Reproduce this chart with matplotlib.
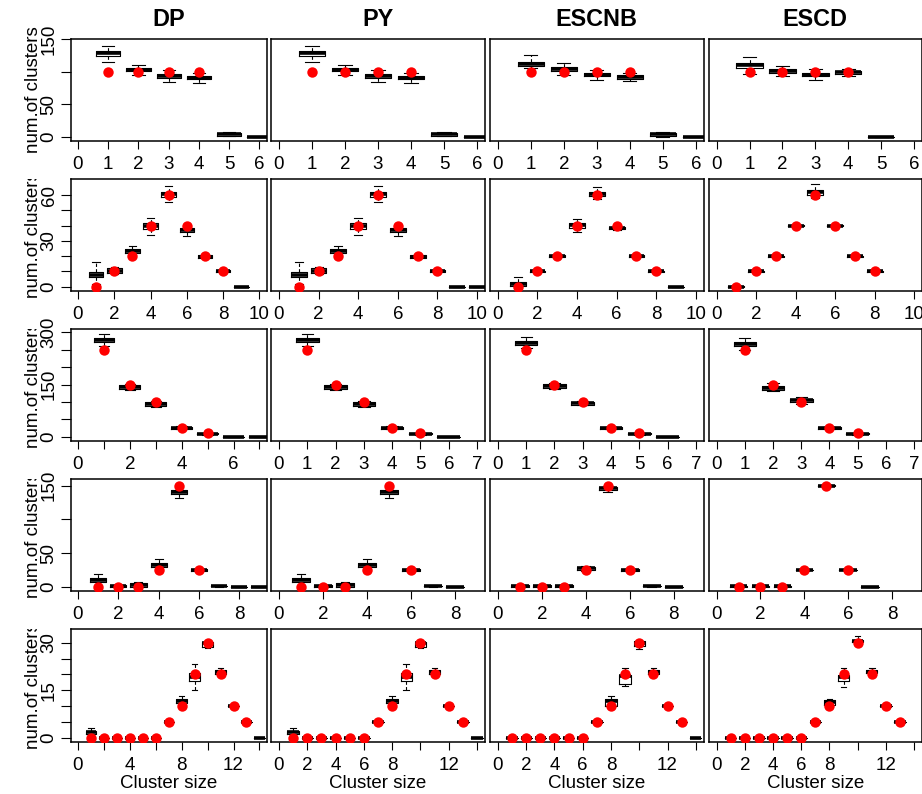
import numpy as np
import matplotlib.pyplot as plt
from matplotlib.transforms import Bbox, TransformedBbox

plt.rcParams['font.family'] = ['Liberation Sans', 'DejaVu Sans']

models = ['DP', 'PY', 'ESCNB', 'ESCD']

# box stats per panel: (lower whisker, q1, median, q3, upper whisker) for cluster size 1, 2, ...
Z = (0, 0, 0, 0, 0)

stats1 = {
    'DP': [(115, 124, 128, 131, 139), (95, 100.5, 103, 105.6, 111), (85, 91, 93.4, 96.4, 102.6),
           (82.7, 88.3, 90.8, 93.4, 98.5), (1, 1.5, 4, 6, 8), Z],
    'PY': [(115, 124, 128, 131, 139), (95, 100.5, 103, 105.6, 111), (85, 91, 93.4, 96.4, 102.6),
           (82.7, 88.3, 90.8, 93.4, 98.5), (1, 1.5, 4, 6, 8), Z],
    'ESCNB': [(105, 108.2, 111.7, 115.3, 125), (94.4, 100.5, 103.6, 106.6, 113.8), (87.2, 92.9, 95.4, 98, 102.6),
              (85.7, 89.3, 92.4, 94.4, 98.5), (0, 1.5, 4, 6, 7.7), Z],
    'ESCD': [(96.4, 105.6, 109.7, 113.8, 123), (92.9, 98.5, 101.5, 104.1, 109.2), (87.2, 92.9, 95.4, 98, 103.6),
             (93.4, 96.4, 99, 101.5, 104.6), Z],
}
stats2 = {
    'DP': [(2, 6.1, 7.6, 9.8, 16), (8, 9, 10.5, 12, 13), (19, 21.8, 23.4, 24.4, 26.8), (34, 38, 39.7, 41.5, 45.2),
           (55.2, 58.9, 60.5, 62, 66.1), (33, 35.6, 37.1, 38.4, 40), (18.5, 19, 19.6, 21, 21.5),
           (9, 9.5, 10, 11, 11.5), Z],
    'PY': [(2, 6.1, 7.6, 9.8, 16), (8, 9, 10.5, 12, 13), (19, 21.8, 23.4, 24.4, 26.8), (34, 38, 39.7, 41.5, 45.2),
           (55.2, 58.9, 60.5, 62, 66.1), (33, 35.6, 37.1, 38.4, 40), (18.5, 19, 19.6, 21, 21.5),
           (9, 9.5, 10, 11, 11.5), Z, Z],
    'ESCNB': [(0, 0.7, 2, 3.3, 6.1), (9, 9.5, 10, 10.5, 11), (19, 19.5, 20, 20.5, 21), (36, 38.2, 40.2, 41.7, 44.1),
              (57.5, 59.3, 60.7, 62.2, 65), (37, 37.5, 38.4, 39.4, 40), (19, 19.5, 20, 20.5, 21),
              (9, 9.5, 10, 10.5, 11), Z],
    'ESCD': [(0, 0, 0, 0.5, 1), (9.5, 9.7, 10, 10.3, 10.5), (19.5, 19.7, 20, 20.3, 20.5), (39.5, 39.7, 40, 40.3, 40.5),
             (58, 59.8, 61.8, 63.1, 67.2), (39, 39.5, 40, 40.3, 40.6), (19.5, 19.7, 20, 20.3, 20.5),
             (9.5, 9.7, 10, 10.3, 10.5)],
}
stats3 = {
    'DP': [(261.5, 271.2, 277.9, 282.7, 294), (134, 137.9, 143.8, 147.6, 151), (86, 89.1, 94.8, 99.7, 103),
           (21, 22.2, 25, 27.8, 30), (6, 7.5, 9, 10.5, 12), Z, Z],
    'PY': [(261.5, 271.2, 277.9, 282.7, 294), (134, 137.9, 143.8, 147.6, 151), (86, 89.1, 94.8, 99.7, 103),
           (21, 22.2, 25, 27.8, 30), (6, 7.5, 9, 10.5, 12), Z],
    'ESCNB': [(255, 264.4, 269, 275, 287.5), (136, 140.8, 146.6, 151.4, 153), (90, 92, 95.8, 99, 102),
              (22, 23.5, 25, 27, 29), (5, 6.5, 7.8, 9.5, 11), Z],
    'ESCD': [(250, 260.6, 266.4, 272, 284.5), (130.4, 135.1, 140.8, 146.6, 155), (95, 98.8, 104.5, 109.2, 114),
             (22, 23.5, 25, 27, 29), (5, 6.5, 8, 9.5, 11)],
}
stats4 = {
    'DP': [(2, 7.4, 9.9, 12.4, 18.4), (0, 0, 1, 2, 2.5), (0, 0, 2.5, 5, 7.4), (25, 28.8, 31.7, 34.7, 40.7),
           (132.2, 137.7, 140.2, 143.2, 146), (22, 23, 24.3, 26, 27), (0, 0.5, 1, 1.5, 2), Z, Z],
    'PY': [(2, 7.4, 9.9, 12.4, 18.4), (0, 0, 1, 2, 2.5), (0, 0, 2.5, 5, 7.4), (25, 28.8, 31.7, 34.7, 40.7),
           (132.2, 137.7, 140.2, 143.2, 146), (22, 23, 24.3, 26, 27), (0, 0.5, 1, 1.5, 2), Z],
    'ESCNB': [(0, 0, 1, 2, 2.5), (0, 0, 1, 2, 2.5), (0, 0, 1, 2, 3), (24, 25, 27.2, 29, 31),
              (140, 143, 146, 148, 150), (23, 24, 25, 26, 27), (0, 0.5, 1, 1.5, 2), Z],
    'ESCD': [(0, 0, 1, 1.5, 2), (0, 0, 1, 1.5, 2), (0, 0, 1, 1.5, 2), (24, 24.5, 25, 25.5, 26),
             (149, 149.5, 150, 150.5, 151), (24, 24.5, 25, 25.5, 26), Z],
}
stats5 = {
    'DP': [(0, 1.2, 1.7, 2.2, 3), Z, Z, Z, Z, Z, (4.8, 4.9, 5, 5.1, 5.2), (10, 11.1, 11.7, 12.4, 13.1),
           (15.1, 18.1, 19.3, 20.4, 23.4), (28.3, 28.8, 29.9, 30.3, 30.6), (19.5, 20.2, 20.9, 21.4, 21.9),
           (9.8, 9.9, 10, 10.1, 10.2), (4.8, 4.9, 5, 5.1, 5.2), Z],
    'PY': [(0, 1.2, 1.7, 2.2, 3), Z, Z, Z, Z, Z, (4.8, 4.9, 5, 5.1, 5.2), (10, 11.1, 11.7, 12.4, 13.1),
           (15.1, 18.1, 19.3, 20.4, 23.4), (28.3, 28.8, 29.9, 30.3, 30.6), (19.5, 20.2, 20.9, 21.4, 21.9),
           (9.8, 9.9, 10, 10.1, 10.2), (4.8, 4.9, 5, 5.1, 5.2), Z],
    'ESCNB': [Z, Z, Z, Z, Z, Z, (4.8, 4.9, 5, 5.1, 5.2), (9.8, 10, 11.7, 12.2, 13.1),
              (16.5, 17, 19.6, 19.9, 22.2), (28.1, 29, 30, 30.5, 31), (20, 20.3, 20.9, 21.4, 21.9),
              (9.8, 9.9, 10, 10.1, 10.2), (4.8, 4.9, 5, 5.1, 5.2), Z],
    'ESCD': [Z, Z, Z, Z, Z, Z, (4.8, 4.9, 5, 5.1, 5.2), (10, 10.5, 11.4, 12, 12.3),
             (16, 18.1, 19.3, 19.9, 22.2), (30, 30.2, 30.6, 31, 32.3), (20, 20.4, 20.9, 21.4, 21.9),
             (9.8, 9.9, 10, 10.1, 10.2), (4.8, 4.9, 5, 5.1, 5.2)],
}
all_stats = [stats1, stats2, stats3, stats4, stats5]

# true number of clusters (red points)
truth1 = [100, 100, 100, 100]
truth2 = [0, 10, 20, 40, 60, 40, 20, 10]
truth3 = [250, 150, 100, 25, 10]
truth4 = [0, 0, 0, 25, 150, 25]
truth5 = [0, 0, 0, 0, 0, 0, 5, 10, 20, 30, 20, 10, 5]
all_truth = [truth1, truth2, truth3, truth4, truth5]

xmax = [6, 10, 7, 9, 14]
xstep = [1, 2, 1, 2, 2]
# x labels R kept (others dropped for overlap)
xlab_keep = [
    [None, None, None, None],
    [None, None, None, None],
    [[0, 2, 4, 6], None, None, None],
    [None, None, None, None],
    [[0, 4, 8, 12], [0, 2, 4, 6, 8, 12], [0, 2, 4, 6, 8, 12], [0, 2, 4, 6, 8, 12]],
]
ylims = [(-6, 150), (-2.8, 70.5), (-11.5, 309.5), (-6.4, 160), (-1.27, 34.4)]
yticks = [np.arange(0, 151, 50), np.arange(0, 61, 10), np.arange(0, 301, 50),
          np.arange(0, 151, 50), np.arange(0, 31, 5)]
ylab_keep = [[0, 50, 150], [0, 30, 60], [0, 150, 300], [0, 50, 150], [0, 15, 30]]
ylab_text = ['num.of clusters'] * 5

W, H = 922, 794
cols = [(70.7, 266.7), (271, 485), (490, 703.7), (708.7, 922)]
rows = [(39, 141), (179, 291), (329, 440.7), (479, 591), (629, 741.7)]
FS = 13.5

fig = plt.figure(figsize=(W / 100, H / 100), dpi=100)

for r in range(5):
    for c, m in enumerate(models):
        x0, x1 = cols[c]
        y0, y1 = rows[r]
        ax = fig.add_axes([x0 / W, 1 - y1 / H, (x1 - x0) / W, (y1 - y0) / H])
        st = all_stats[r][m]
        bx = [dict(whislo=s[0], q1=s[1], med=s[2], q3=s[3], whishi=s[4]) for s in st]
        ax.bxp(bx, positions=np.arange(1, len(bx) + 1), widths=0.8, showfliers=False,
               manage_ticks=False,
               boxprops=dict(color='black', linewidth=0.8),
               medianprops=dict(color='black', linewidth=2.6, solid_capstyle='butt'),
               whiskerprops=dict(color='black', linewidth=0.8, linestyle=(0, (3, 2))),
               capprops=dict(color='black', linewidth=0.8))
        tr = all_truth[r]
        ax.plot(np.arange(1, len(tr) + 1), tr, 'o', color='red', markersize=7.5,
                markeredgewidth=0, zorder=5)

        xm = xmax[r]
        ax.set_xlim(-0.04 * xm, 1.04 * xm)
        ax.set_ylim(*ylims[r])
        xt = np.arange(0, xm + 1, xstep[r])
        ax.set_xticks(xt)
        keep = xlab_keep[r][c]
        ax.set_xticklabels([str(v) if (keep is None or v in keep) else '' for v in xt])
        ax.tick_params(axis='x', length=6, width=0.8, pad=5, labelsize=FS, direction='out')
        if c == 0:
            ax.set_yticks(yticks[r])
            ax.set_yticklabels([str(v) if v in ylab_keep[r] else '' for v in yticks[r]],
                               rotation=90, va='center')
            ax.tick_params(axis='y', length=7, width=0.8, pad=2.5, labelsize=FS, direction='out')
        else:
            ax.set_yticks([])
        for sp in ax.spines.values():
            sp.set_linewidth(1.1)
        if r == 0:
            ax.set_title(m, fontsize=16.8, fontweight='bold', pad=9)
        if r == 4:
            ax.set_xlabel('Cluster size', fontsize=FS, labelpad=1)

    # y label, clipped at the panel top like the original
    y0, y1 = rows[r]
    t = fig.text(33 / W, 1 - (y0 + y1) / 2 / H, ylab_text[r], rotation=90,
                 ha='center', va='center', fontsize=FS)
    if r > 0:
        t.set_clip_box(TransformedBbox(Bbox([[0, 0], [1, 1 - y0 / H]]), fig.transFigure))
        t.set_clip_on(True)

fig.savefig('out.png', dpi=100)
